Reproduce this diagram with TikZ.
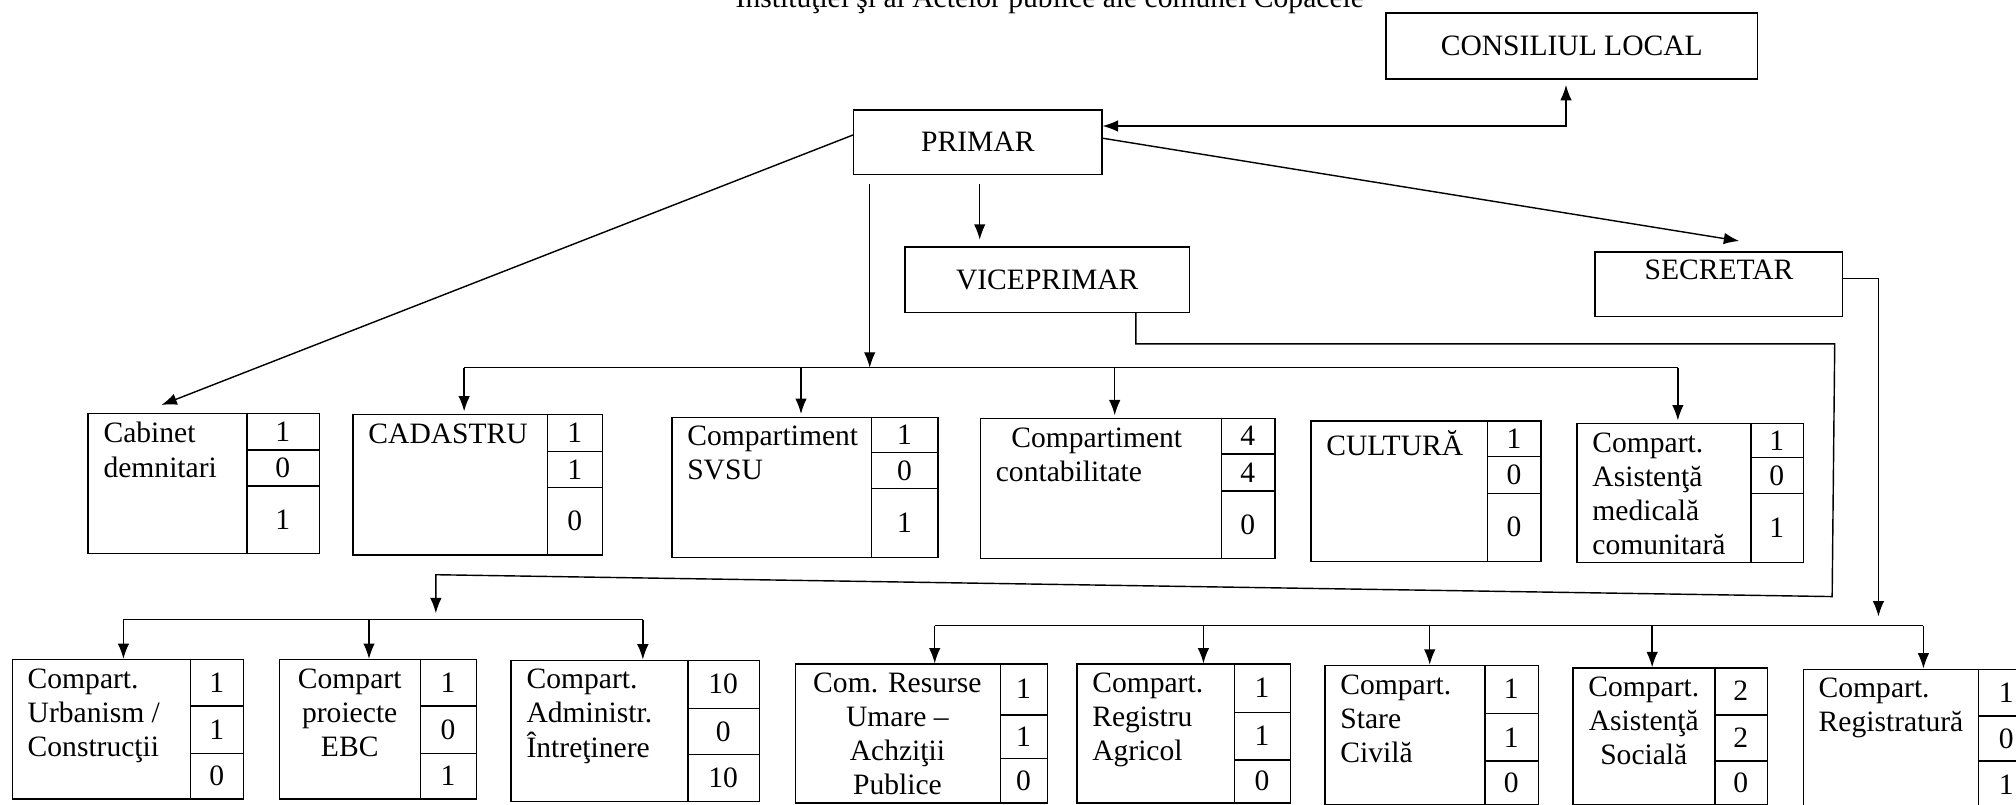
\documentclass[tikz,border=0pt]{standalone}
\usepackage{fontspec}
\setmainfont{Liberation Serif}
\usetikzlibrary{arrows.meta,calc}
\tikzset{every picture/.style={line width=1.1pt}}

\begin{document}
\begin{tikzpicture}[x=1pt,y=1pt,yscale=-1,xscale=1,
  every node/.style={font=\fontsize{23}{26.5}\selectfont, inner sep=0pt},
  head/.style={draw, rectangle},
  cell/.style={draw, rectangle, anchor=north west},
  txt/.style={anchor=north west, align=left},
  ctxt/.style={anchor=north, align=center},
  arr/.style={-{Latex[length=12pt,width=9pt]}}]
\useasboundingbox (0,0) rectangle (1568,626);
\clip (0,0) rectangle (1568,626);

% Text Node
\node [anchor=base] (title) at (816.5,6) {Instituţiei şi al Actelor publice ale comunei Copăcele};

%Shape: Rectangle [consiliu]
\node [head, minimum width=289, minimum height=51.5] (consiliu) at (1222.5,35.75) {CONSILIUL LOCAL};
%Shape: Rectangle [primar]
\node [head, minimum width=193, minimum height=50] (primar) at (760.5,110.5) {PRIMAR};
%Shape: Rectangle [vice]
\node [head, minimum width=221, minimum height=51] (vice) at (814.5,217.5) {VICEPRIMAR};
%Shape: Rectangle [secr]
\node [head, minimum width=192.5, minimum height=50] (secr) at (1336.75,221) {};
% Text Node
\node (secrt) at (1337,210) {SECRETAR};

%Shape: Rectangle [cab]
\node [cell, minimum width=180, minimum height=109] (cab) at (68,321) {};
\draw (192,321) -- (192,430) (192,350) -- (248,350) (192,378) -- (248,378) ;
% Text Node
\node [txt] (cabt) at (80,328) {Cabinet\\demnitari};
\node (cab1) at (220,335.5) {1};
\node (cab2) at (220,364) {0};
\node (cab3) at (220,404) {1};

%Shape: Rectangle [cad]
\node [cell, minimum width=194, minimum height=109] (cad) at (274,322) {};
\draw (426,322) -- (426,431) (426,351) -- (468,351) (426,379) -- (468,379) ;
% Text Node
\node [txt] (cadt) at (286,329) {CADASTRU};
\node (cad1) at (447,336.5) {1};
\node (cad2) at (447,365) {1};
\node (cad3) at (447,405) {0};

%Shape: Rectangle [svsu]
\node [cell, minimum width=207, minimum height=109] (svsu) at (522,324) {};
\draw (678,324) -- (678,433) (678,352) -- (729,352) (678,380) -- (729,380) ;
% Text Node
\node [txt] (svsut) at (534,331) {Compartiment\\SVSU};
\node (svsu1) at (703.5,338) {1};
\node (svsu2) at (703.5,366) {0};
\node (svsu3) at (703.5,406.5) {1};

%Shape: Rectangle [cont]
\node [cell, minimum width=229, minimum height=109] (cont) at (762,325) {};
\draw (950,325) -- (950,434) (950,353) -- (991,353) (950,382) -- (991,382) ;
% Text Node
\node [txt] (contt) at (774,332) {\hspace*{12pt}Compartiment\\contabilitate};
\node (cont1) at (970.5,339) {4};
\node (cont2) at (970.5,367.5) {4};
\node (cont3) at (970.5,408) {0};

%Shape: Rectangle [cult]
\node [cell, minimum width=179, minimum height=109] (cult) at (1019,327) {};
\draw (1157,327) -- (1157,436) (1157,355) -- (1198,355) (1157,384) -- (1198,384) ;
% Text Node
\node [txt] (cultt) at (1031,334) {CULTURĂ};
\node (cult1) at (1177.5,341) {1};
\node (cult2) at (1177.5,369.5) {0};
\node (cult3) at (1177.5,410) {0};

%Shape: Rectangle [med]
\node [cell, minimum width=176, minimum height=108] (med) at (1226,329) {};
\draw (1362,329) -- (1362,437) (1362,356) -- (1402,356) (1362,384) -- (1402,384) ;
% Text Node
\node [txt] (medt) at (1238,336) {Compart.\\Asistenţă\\medicală\\comunitară};
\node (med1) at (1382,342.5) {1};
\node (med2) at (1382,370) {0};
\node (med3) at (1382,410.5) {1};

%Shape: Rectangle [urb]
\node [cell, minimum width=180, minimum height=108.5] (urb) at (9,512.5) {};
\draw (148,512.5) -- (148,621) (148,549) -- (189,549) (148,586) -- (189,586) ;
% Text Node
\node [txt] (urbt) at (21,519.5) {Compart.\\Urbanism /\\Construcţii};
\node (urb1) at (168.5,531) {1};
\node (urb2) at (168.5,567.5) {1};
\node (urb3) at (168.5,603.5) {0};

%Shape: Rectangle [ebc]
\node [cell, minimum width=153, minimum height=108.5] (ebc) at (217,512.5) {};
\draw (327,512.5) -- (327,621) (327,549) -- (370,549) (327,586) -- (370,586) ;
% Text Node
\node [ctxt] (ebct) at (272,519.5) {Compart\\proiecte\\EBC};
\node (ebc1) at (348.5,531) {1};
\node (ebc2) at (348.5,567.5) {0};
\node (ebc3) at (348.5,603.5) {1};

%Shape: Rectangle [adm]
\node [cell, minimum width=193, minimum height=110] (adm) at (397,513) {};
\draw (535,513) -- (535,623) (535,551) -- (590,551) (535,587) -- (590,587) ;
% Text Node
\node [txt] (admt) at (409,520) {Compart.\\Administr.\\Întreţinere};
\node (adm1) at (562.5,532) {10};
\node (adm2) at (562.5,569) {0};
\node (adm3) at (562.5,605) {10};

%Shape: Rectangle [res]
\node [cell, minimum width=196, minimum height=108] (res) at (618,516) {};
\draw (778,516) -- (778,624) (778,556) -- (814,556) (778,590) -- (814,590) ;
% Text Node
\node [ctxt] (rest) at (698,523) {Com. Resurse\\Umare –\\Achziţii\\Publice};
\node (res1) at (796,536) {1};
\node (res2) at (796,573) {1};
\node (res3) at (796,607) {0};

%Shape: Rectangle [agr]
\node [cell, minimum width=166, minimum height=108] (agr) at (837,516) {};
\draw (960,516) -- (960,624) (960,554) -- (1003,554) (960,591) -- (1003,591) ;
% Text Node
\node [txt] (agrt) at (849,523) {Compart.\\Registru\\Agricol};
\node (agr1) at (981.5,535) {1};
\node (agr2) at (981.5,572.5) {1};
\node (agr3) at (981.5,607.5) {0};

%Shape: Rectangle [civ]
\node [cell, minimum width=166, minimum height=108] (civ) at (1030,517) {};
\draw (1155,517) -- (1155,625) (1155,555) -- (1196,555) (1155,592) -- (1196,592) ;
% Text Node
\node [txt] (civt) at (1042,524) {Compart.\\Stare\\Civilă};
\node (civ1) at (1175.5,536) {1};
\node (civ2) at (1175.5,573.5) {1};
\node (civ3) at (1175.5,608.5) {0};

%Shape: Rectangle [soc]
\node [cell, minimum width=151, minimum height=106] (soc) at (1223,519) {};
\draw (1334,519) -- (1334,625) (1334,556) -- (1374,556) (1334,592) -- (1374,592) ;
% Text Node
\node [ctxt] (soct) at (1278.5,526) {Compart.\\Asistenţă\\Socială};
\node (soc1) at (1354,537.5) {2};
\node (soc2) at (1354,574) {2};
\node (soc3) at (1354,608.5) {0};

%Shape: Rectangle [reg]
\node [cell, minimum width=180, minimum height=112] (reg) at (1402,520) {};
\draw (1539,520) -- (1539,632) (1539,557) -- (1582,557) (1539,592) -- (1582,592) ;
% Text Node
\node [txt] (regt) at (1414,527) {Compart.\\Registratură};
\node (reg1) at (1560.5,538.5) {1};
\node (reg2) at (1560.5,574.5) {0};
\node (reg3) at (1560.5,610) {1};

% Bus points
\coordinate (p1) at ($(primar.south west)+(13,7)$);
\coordinate (b1a) at (361,286);
\coordinate (b1c) at (623,286);
\coordinate (b1d) at (867,286);
\coordinate (b1b) at (1305,286);
\coordinate (v0) at ($(vice.south)+(69,0)$);
\coordinate (v1) at (1427,267.5);
\coordinate (v2) at (1425,464);
\coordinate (v3) at (339,447);
\coordinate (b3a) at (96,482);
\coordinate (b3c) at (287,482);
\coordinate (b3b) at (500,482);
\coordinate (s1) at (1461,486.5);
\coordinate (b4a) at (727,486.5);
\coordinate (b4c) at (936,486.5);
\coordinate (b4d) at (1112,486.5);
\coordinate (b4e) at (1285,486.5);
\coordinate (b4b) at (1496,486.5);

% Connection
\draw [{Latex[length=12pt,width=9pt]}-{Latex[length=12pt,width=9pt]}, shorten >=4pt] ($(primar.east)+(0,-12.5)$) -| ($(consiliu.south)+(-4.5,0)$);
% Connection
\draw [arr] ($(primar.east)+(0,-3)$) -- ($(secr.north)+(16,-8)$);
% Connection
\draw [arr] ($(primar.west)+(0,-5.5)$) -- ($(cab.north)+(-33,-6)$);
% Connection
\draw [arr] ($(primar.south)+(1.5,7)$) -- ($(vice.north)+(-52.5,-5)$);
% Connection
\draw [arr] (p1) -- (p1 |- b1a);
\draw (b1a) -- (b1b);
\draw [arr, shorten >=2pt] (b1a) -- (b1a |- cad.north);
\draw [arr, shorten >=2pt] (b1c) -- (b1c |- svsu.north);
\draw [arr, shorten >=2pt] (b1d) -- (b1d |- cont.north);
\draw [arr, shorten >=2pt] (b1b) -- (b1b |- med.north);
% Connection
\draw [arr, shorten >=5pt] (v0) |- (v1) -- (v2) -- (v3) -- (v3 |- b3a);
\draw (b3a) -- (b3b);
\draw [arr] (b3a) -- (b3a |- urb.north);
\draw [arr] (b3c) -- (b3c |- ebc.north);
\draw [arr] (b3b) -- (b3b |- adm.north);
% Connection
\draw [arr, shorten >=7pt] ($(secr.east)+(0,-4.5)$) -| (s1);
\draw (b4a) -- (b4b);
\draw [arr] (b4a) -- (b4a |- res.north);
\draw [arr] (b4c) -- (b4c |- agr.north);
\draw [arr] (b4d) -- (b4d |- civ.north);
\draw [arr] (b4e) -- (b4e |- soc.north);
\draw [arr] (b4b) -- (b4b |- reg.north);

\end{tikzpicture}
\end{document}
